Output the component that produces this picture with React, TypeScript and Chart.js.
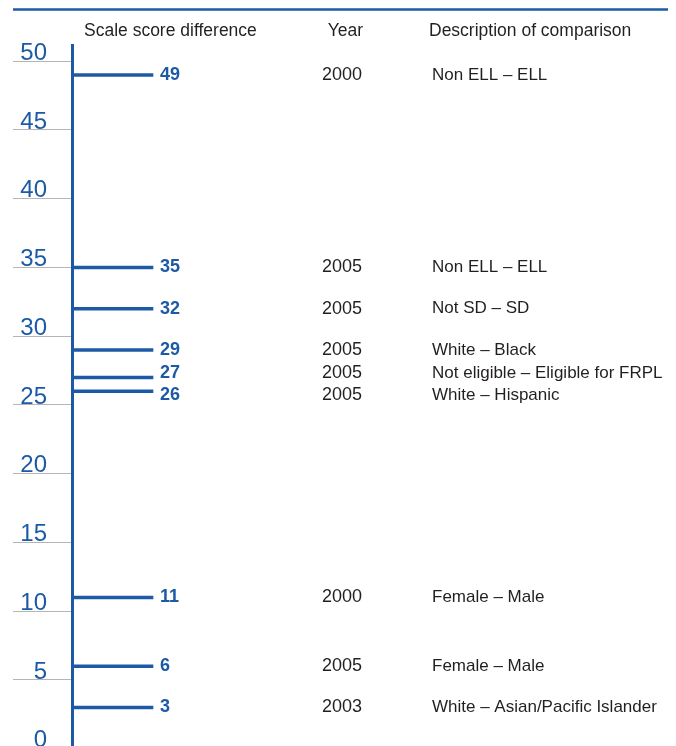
import { useEffect, useRef } from "react";
import { Chart, registerables } from "chart.js";

Chart.register(...registerables);

// ---- data ----
const scoreGaps = [49, 35, 32, 29, 27, 26, 11, 6, 3];
const years = ["2000", "2005", "2005", "2005", "2005", "2005", "2000", "2005", "2003"];
const comparisons = [
  "Non ELL – ELL",
  "Non ELL – ELL",
  "Not SD – SD",
  "White – Black",
  "Not eligible – Eligible for FRPL",
  "White – Hispanic",
  "Female – Male",
  "Female – Male",
  "White – Asian/Pacific Islander",
];
const headers = ["Scale score difference", "Year", "Description of comparison"];
const Y_MIN = -0.82;
const Y_MAX = 51.18;
const Y_STEP = 5;

// ---- style / layout ----
const BLUE = "#1d5aa5";
const TEXT = "#231f20";
const GRAY = "#b5b5b5";
const FONT = '"Liberation Sans", Arial, sans-serif';
const BAR_LEN = 1; // all bars share the same drawn length
const X_MAX = 7.457;
const W = 676;
const H = 760;
const LABEL_GAP = 22; // minimum vertical spacing between text rows

// push label rows apart so that they do not overlap
function spreadRows(ys: number[], gap: number): number[] {
  const order = ys.map((_, i) => i).sort((a, b) => ys[a] - ys[b]);
  let clusters = order.map((i) => ({ idx: [i], sum: ys[i] }));
  let changed = true;
  while (changed) {
    changed = false;
    for (let k = 0; k < clusters.length - 1; k++) {
      const a = clusters[k];
      const b = clusters[k + 1];
      const aEnd = a.sum / a.idx.length + ((a.idx.length - 1) * gap) / 2;
      const bStart = b.sum / b.idx.length - ((b.idx.length - 1) * gap) / 2;
      if (bStart - aEnd < gap) {
        clusters.splice(k, 2, { idx: a.idx.concat(b.idx), sum: a.sum + b.sum });
        changed = true;
        break;
      }
    }
  }
  const out = ys.slice();
  clusters.forEach((c) => {
    const start = c.sum / c.idx.length - ((c.idx.length - 1) * gap) / 2;
    c.idx.forEach((i, j) => {
      out[i] = start + j * gap;
    });
  });
  return out;
}

const annotate = {
  id: "annotate",
  afterDatasetsDraw(chart: any) {
    const ctx = chart.ctx as CanvasRenderingContext2D;
    const meta = chart.getDatasetMeta(0);
    ctx.save();
    // top rule
    ctx.strokeStyle = BLUE;
    ctx.lineWidth = 2.5;
    ctx.beginPath();
    ctx.moveTo(13, 9.5);
    ctx.lineTo(668, 9.5);
    ctx.stroke();
    // headers
    ctx.fillStyle = TEXT;
    ctx.textBaseline = "middle";
    ctx.font = `17.5px ${FONT}`;
    ctx.textAlign = "left";
    ctx.fillText(headers[0], 84, 31);
    ctx.textAlign = "right";
    ctx.fillText(headers[1], 363, 31);
    ctx.textAlign = "left";
    ctx.fillText(headers[2], 429, 31);
    // row labels
    const rowYs = spreadRows(
      meta.data.map((bar: any) => bar.y),
      LABEL_GAP
    );
    meta.data.forEach((bar: any, i: number) => {
      const y = rowYs[i];
      ctx.fillStyle = BLUE;
      ctx.font = `bold 18px ${FONT}`;
      ctx.textAlign = "left";
      ctx.fillText(String(scoreGaps[i]), bar.x + 7, y);
      ctx.fillStyle = TEXT;
      ctx.font = `18px ${FONT}`;
      ctx.textAlign = "right";
      ctx.fillText(years[i], 362, y);
      ctx.font = `17px ${FONT}`;
      ctx.textAlign = "left";
      ctx.fillText(comparisons[i], 432, y);
    });
    ctx.restore();
  },
};

export default function App() {
  const ref = useRef<HTMLCanvasElement | null>(null);
  useEffect(() => {
    if (!ref.current) return;
    const chart = new Chart(ref.current, {
      type: "bar",
      data: {
        datasets: [
          {
            data: scoreGaps.map((v) => ({ x: BAR_LEN, y: v })),
            backgroundColor: BLUE,
            borderWidth: 0,
            barThickness: 3,
          } as any,
        ],
      },
      options: {
        indexAxis: "y",
        animation: false,
        responsive: false,
        devicePixelRatio: 1,
        layout: { padding: { top: 45, left: 0, right: 0, bottom: 0 } },
        plugins: { legend: { display: false }, tooltip: { enabled: false } },
        scales: {
          x: { type: "linear", display: false, min: 0, max: X_MAX },
          y: {
            type: "linear",
            min: Y_MIN,
            max: Y_MAX,
            offset: false,
            afterFit: (scale: any) => {
              scale.width = 72;
            },
            grid: {
              offset: false,
              drawOnChartArea: false,
              drawTicks: true,
              tickLength: 59,
              color: GRAY,
              tickColor: GRAY,
              lineWidth: 1,
            },
            border: { display: true, color: BLUE, width: 3 },
            ticks: {
              stepSize: Y_STEP,
              includeBounds: false,
              padding: -34,
              labelOffset: -8,
              color: BLUE,
              autoSkip: false,
              font: { size: 24, family: FONT },
            },
          },
        },
      } as any,
      plugins: [annotate],
    });
    return () => chart.destroy();
  }, []);
  return (
    <div style={{ position: "fixed", left: 0, top: 0, width: W, height: H, background: "#fff" }}>
      <canvas ref={ref} width={W} height={H} style={{ display: "block" }} />
    </div>
  );
}
